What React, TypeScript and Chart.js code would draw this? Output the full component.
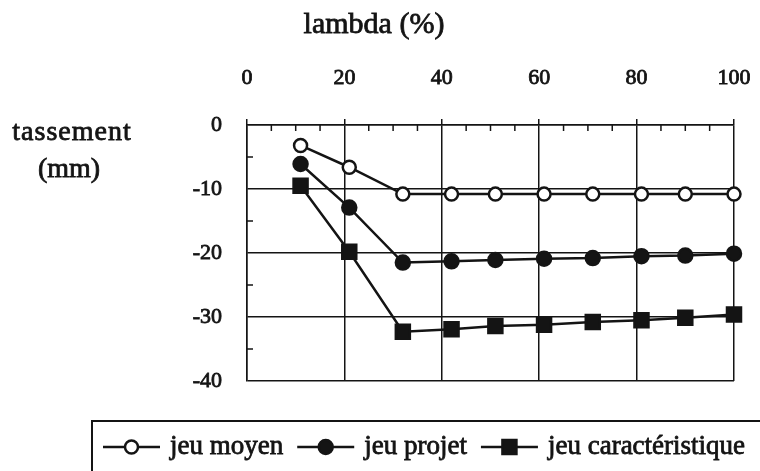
import React, { useEffect, useRef } from 'react';
import { Chart, registerables } from 'chart.js';

Chart.register(...registerables);

// ---- data ----
const lambdaPct = [11, 21, 32, 42, 51, 61, 71, 81, 90, 100];
const jeuMoyen = [-3.2, -6.6, -10.8, -10.8, -10.8, -10.8, -10.8, -10.8, -10.8, -10.8];
const jeuProjet = [-6.1, -12.9, -21.5, -21.3, -21.1, -20.9, -20.8, -20.5, -20.4, -20.1];
const jeuCaract = [-9.5, -19.8, -32.3, -31.9, -31.4, -31.2, -30.8, -30.5, -30.1, -29.6];
const seriesLabels = ['jeu moyen', 'jeu projet', 'jeu caractéristique'];
const xTitle = 'lambda (%)';
const yTitleLines = ['tassement', '(mm)'];
const xMin = 0, xMax = 100, xStep = 20;
const yMin = -40, yMax = 0, yStep = 10;

const INK = '#141414';
const FONT = '"Liberation Serif", "Times New Roman", serif';

function heavyText(ctx: CanvasRenderingContext2D, text: string, x: number, y: number) {
  ctx.fillText(text, x, y);
  ctx.strokeText(text, x, y);
}

function drawMarker(ctx: CanvasRenderingContext2D, style: string, filled: boolean, cx: number, cy: number) {
  ctx.save();
  ctx.lineWidth = 2.5;
  ctx.strokeStyle = INK;
  ctx.fillStyle = filled ? INK : '#ffffff';
  ctx.beginPath();
  if (style === 'rect') {
    ctx.rect(cx - 7, cy - 7, 14, 14);
  } else {
    ctx.arc(cx, cy, filled ? 7 : 6.5, 0, Math.PI * 2);
  }
  ctx.fill();
  ctx.stroke();
  ctx.restore();
}

const decorPlugin = {
  id: 'decor',
  afterDraw(chart: any) {
    const { ctx, chartArea: a, scales } = chart;
    const xs = scales.x;
    const ys = scales.y;
    ctx.save();
    // minor ticks
    ctx.strokeStyle = INK;
    ctx.lineWidth = 1.5;
    for (let v = xMin + 5; v < xMax; v += 5) {
      if (v % xStep === 0) continue;
      const px = xs.getPixelForValue(v);
      ctx.beginPath();
      ctx.moveTo(px, a.top);
      ctx.lineTo(px, a.top + 6);
      ctx.stroke();
    }
    for (let v = yMax - 5; v > yMin; v -= yStep) {
      const py = ys.getPixelForValue(v);
      ctx.beginPath();
      ctx.moveTo(a.left, py);
      ctx.lineTo(a.left + 6, py);
      ctx.stroke();
    }
    // axis titles
    ctx.fillStyle = INK;
    ctx.strokeStyle = INK;
    ctx.lineWidth = 0.8;
    ctx.textAlign = 'center';
    ctx.textBaseline = 'middle';
    ctx.font = `30px ${FONT}`;
    heavyText(ctx, xTitle, 374, 25);
    ctx.font = `28px ${FONT}`;
    (ctx as any).letterSpacing = '1px';
    heavyText(ctx, yTitleLines[0], 72, a.top + 8);
    (ctx as any).letterSpacing = '0px';
    heavyText(ctx, yTitleLines[1], 69, a.top + 45);

    // legend box
    ctx.lineWidth = 2;
    ctx.strokeRect(92, 421, 760, 120);
    ctx.font = `27px ${FONT}`;
    ctx.textAlign = 'left';
    let x = 103;
    const ly = 447;
    chart.data.datasets.forEach((ds: any) => {
      ctx.strokeStyle = INK;
      ctx.lineWidth = 2.5;
      ctx.beginPath();
      ctx.moveTo(x, ly);
      ctx.lineTo(x + 57, ly);
      ctx.stroke();
      drawMarker(ctx, ds.pointStyle, ds.pointBackgroundColor === INK, x + 28.5, ly);
      ctx.fillStyle = INK;
      ctx.lineWidth = 0.8;
      heavyText(ctx, ds.label, x + 67, ly);
      x = x + 67 + ctx.measureText(ds.label).width + 14;
    });
    ctx.restore();
  },
};

export default function App() {
  const ref = useRef<HTMLCanvasElement | null>(null);

  useEffect(() => {
    if (!ref.current) return;
    const mk = (vals: number[]) => lambdaPct.map((x, i) => ({ x, y: vals[i] }));
    const common = {
      borderColor: INK,
      borderWidth: 2.5,
      pointBorderColor: INK,
      pointBorderWidth: 2.5,
      clip: false as any,
      tension: 0,
    };
    const tickFont = { family: FONT, size: 22 };
    const chart = new Chart(ref.current, {
      type: 'line',
      data: {
        datasets: [
          { ...common, label: seriesLabels[0], data: mk(jeuMoyen), pointStyle: 'circle', pointRadius: 6.5, pointBackgroundColor: '#ffffff' },
          { ...common, label: seriesLabels[1], data: mk(jeuProjet), pointStyle: 'circle', pointRadius: 7, pointBackgroundColor: INK },
          { ...common, label: seriesLabels[2], data: mk(jeuCaract), pointStyle: 'rect', pointRadius: 9.9, pointBackgroundColor: INK },
        ],
      },
      options: {
        responsive: false,
        animation: false,
        events: [],
        layout: { padding: { left: 0, top: 0, right: 26, bottom: 90 } },
        plugins: { legend: { display: false }, tooltip: { enabled: false }, title: { display: false } },
        scales: {
          x: {
            type: 'linear',
            position: 'top',
            min: xMin,
            max: xMax,
            afterFit: (s: any) => { s.height = 125; s.paddingLeft = 0; s.paddingRight = 0; },
            ticks: { stepSize: xStep, color: INK, font: tickFont, padding: 28, maxRotation: 0, textStrokeColor: INK, textStrokeWidth: 0.8 },
            grid: { color: INK, lineWidth: 1.5, drawTicks: true, tickLength: 6, tickColor: INK },
            border: { display: true, color: INK, width: 1.5 },
          },
          y: {
            type: 'linear',
            min: yMin,
            max: yMax,
            afterFit: (s: any) => { s.width = 247; s.paddingTop = 0; s.paddingBottom = 0; },
            ticks: { stepSize: yStep, color: INK, font: tickFont, padding: 25, textStrokeColor: INK, textStrokeWidth: 0.8 },
            grid: { color: INK, lineWidth: 1.5, drawTicks: false },
            border: { display: true, color: INK, width: 1.5 },
          },
        },
      },
      plugins: [decorPlugin],
    });
    return () => chart.destroy();
  }, []);

  return (
    <div style={{ position: 'fixed', left: 0, top: 0, width: 760, height: 471, background: '#fff' }}>
      <canvas ref={ref} width={760} height={471} style={{ width: 760, height: 471, display: 'block' }} />
    </div>
  );
}
